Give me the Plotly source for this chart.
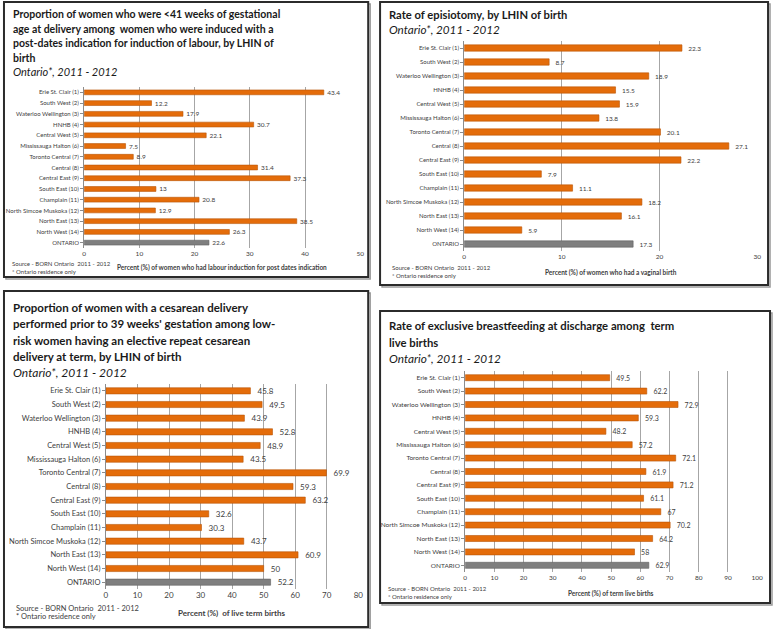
import plotly.graph_objects as go

W, H = 778, 629

regions = ["Erie St. Clair (1)", "South West (2)", "Waterloo Wellington (3)", "HNHB (4)",
           "Central West (5)", "Mississauga Halton (6)", "Toronto Central (7)", "Central (8)",
           "Central East (9)", "South East (10)", "Champlain (11)", "North Simcoe Muskoka (12)",
           "North East (13)", "North West (14)", "ONTARIO"]

induction = [43.4, 12.2, 17.9, 30.7, 22.1, 7.5, 8.9, 31.4, 37.3, 13, 20.8, 12.9, 38.5, 26.3, 22.6]
episiotomy = [22.3, 8.7, 18.9, 15.5, 15.9, 13.8, 20.1, 27.1, 22.2, 7.9, 11.1, 18.2, 16.1, 5.9, 17.3]
cesarean = [45.8, 49.5, 43.9, 52.8, 48.9, 43.5, 69.9, 59.3, 63.2, 32.6, 30.3, 43.7, 60.9, 50, 52.2]
breastfeeding = [49.5, 62.2, 72.9, 59.3, 48.2, 57.2, 72.1, 61.9, 71.2, 61.1, 67, 70.2, 64.2, 58, 62.9]

titles = [
    ["Proportion of women who were <41 weeks of gestational",
     "age at delivery among  women who were induced with a",
     "post-dates indication for induction of labour, by LHIN of",
     "birth"],
    ["Rate of episiotomy, by LHIN of birth"],
    ["Proportion of women with a cesarean delivery",
     "performed prior to 39 weeks' gestation among low-",
     "risk women having an elective repeat cesarean",
     "delivery at term, by LHIN of birth"],
    ["Rate of exclusive breastfeeding at discharge among  term",
     "live births"],
]
subtitle = "Ontario*, 2011 - 2012"
xtitles = ["Percent (%) of women who had labour induction for post dates indication",
           "Percent (%) of women who had a vaginal birth",
           "Percent (%)  of live term births",
           "Percent (%) of term live births"]
xmax = [50, 30, 80, 100]
source = "Source - BORN Ontario  2011 - 2012"
residence = "* Ontario residence only"

ORANGE = "#e46c0a"
GREY = "#7f7f7f"
FONT = "Lato, 'Open Sans', sans-serif"

panels = [
    dict(box=(2, 2, 370, 277), plot=(83, 362, 87, 248), tlines=[14, 28.5, 43, 57.5], sub=71,
         tsize=10.5, csize=6, vsize=6.5, tksize=6.5, xt=267, src=263, xtx=222, srcx=8),
    dict(box=(382, 2, 774, 285), plot=(467, 763, 41, 251), tlines=[14], sub=29,
         tsize=11.2, csize=6, vsize=6.5, tksize=6.5, xt=272, src=267, xtx=615, srcx=392),
    dict(box=(2, 291, 370, 627), plot=(105, 360, 384, 589), tlines=[307, 323.5, 340, 356.5], sub=372,
         tsize=11.5, csize=7.5, vsize=8, tksize=8, xt=613, src=608, xtx=232, srcx=12),
    dict(box=(382, 311, 776, 603), plot=(468, 763, 371, 572), tlines=[325, 342], sub=358,
         tsize=11.3, csize=6.5, vsize=7, tksize=6.5, xt=593, src=588, xtx=615, srcx=388),
]
datas = [induction, episiotomy, cesarean, breastfeeding]

fig = go.Figure()

def px(x):
    return x / W

def py(y):
    return 1 - y / H

annotations = []
shapes = []
for i, (p, d) in enumerate(zip(panels, datas)):
    n = i + 1
    xa = "x" if n == 1 else f"x{n}"
    ya = "y" if n == 1 else f"y{n}"
    colors = [ORANGE] * (len(d) - 1) + [GREY]
    lines = ["#b85508"] * (len(d) - 1) + ["#5f5f5f"]
    fig.add_trace(go.Bar(
        x=d, y=regions, orientation="h", xaxis=xa, yaxis=ya,
        marker=dict(color=colors, line=dict(color=lines, width=0.6)),
        text=[f"\u00a0\u00a0{v:g}" for v in d], textposition="outside", cliponaxis=False,
        constraintext="none",
        textfont=dict(size=p["vsize"], color="#404040", family=FONT),
        showlegend=False, hoverinfo="x+y",
    ))
    x0, x1, yt, yb = p["plot"]
    fig.layout[f"xaxis{'' if n == 1 else n}"] = dict(
        domain=[px(x0), px(x1)], anchor=ya, range=[0, xmax[i]], dtick=10,
        showgrid=True, gridcolor="#a6a6a6", gridwidth=1, zeroline=False,
        showline=False, ticks="", tickfont=dict(size=p["tksize"], color="#404040", family=FONT),
        fixedrange=True,
    )
    fig.layout[f"yaxis{'' if n == 1 else n}"] = dict(
        domain=[py(yb), py(yt)], anchor=xa, autorange="reversed",
        showline=True, linecolor="#8c8c8c", linewidth=1, ticks="outside", ticklen=3,
        tickcolor="#8c8c8c", tickfont=dict(size=p["csize"], color="#404040", family=FONT),
        showgrid=False, fixedrange=True,
    )
    shapes.append(dict(type="rect", xref="paper", yref="paper", layer="below",
                       x0=px(x0), x1=px(x1), y0=py(yb), y1=py(yt),
                       fillcolor="#e2e2e2", line=dict(color="#c8c8c8", width=1)))
    bx0, by0, bx1, by1 = p["box"]
    shapes.append(dict(type="rect", xref="paper", yref="paper", layer="below",
                       x0=px(bx0 + 2), x1=px(bx1 + 2), y0=py(by1 + 2), y1=py(by0 + 2),
                       line=dict(color="#9a9a9a", width=1.5)))
    shapes.append(dict(type="rect", xref="paper", yref="paper", layer="below",
                       x0=px(bx0), x1=px(bx1), y0=py(by1), y1=py(by0),
                       fillcolor="white", line=dict(color="#2b2b2b", width=2)))
    tx = bx0 + 7
    for j, line in enumerate(titles[i]):
        annotations.append(dict(text=f"<b>{line}</b>", xref="paper", yref="paper",
                                x=px(tx), y=py(p["tlines"][j]), xanchor="left", yanchor="middle",
                                showarrow=False, font=dict(size=p["tsize"], color="#1a1a1a", family=FONT)))
    annotations.append(dict(text=f"<i>{subtitle}</i>", xref="paper", yref="paper",
                            x=px(tx), y=py(p["sub"]), xanchor="left", yanchor="middle",
                            showarrow=False, font=dict(size=p["tsize"] + 0.5, color="#1a1a1a", family=FONT)))
    annotations.append(dict(text=f"<b>{xtitles[i]}</b>", xref="paper", yref="paper",
                            x=px(p["xtx"]), y=py(p["xt"]), xanchor="center", yanchor="middle",
                            showarrow=False, font=dict(size=p["tksize"], color="#404040", family=FONT)))
    annotations.append(dict(text=source, xref="paper", yref="paper",
                            x=px(p["srcx"]), y=py(p["src"]), xanchor="left", yanchor="middle",
                            showarrow=False, font=dict(size=p["tksize"] - 0.5, color="#404040", family=FONT)))
    annotations.append(dict(text=residence, xref="paper", yref="paper",
                            x=px(p["srcx"]), y=py(p["src"] + 8.5), xanchor="left", yanchor="middle",
                            showarrow=False, font=dict(size=p["tksize"] - 0.5, color="#404040", family=FONT)))

fig.update_layout(
    width=W, height=H, margin=dict(l=0, r=0, t=0, b=0),
    paper_bgcolor="white", plot_bgcolor="rgba(0,0,0,0)",
    bargap=0.55, annotations=annotations, shapes=shapes,
    font=dict(family=FONT),
)

fig.write_html("out.html", config={"displayModeBar": False},
               post_script="document.body.style.margin='0';document.body.style.overflow='hidden';")
